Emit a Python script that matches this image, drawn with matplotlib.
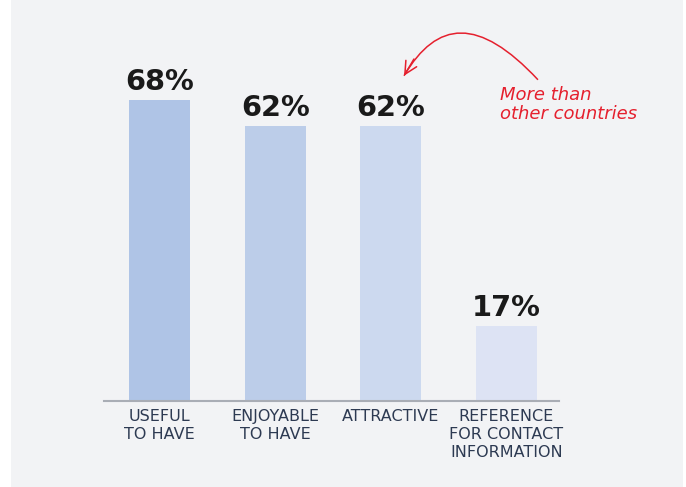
import matplotlib.pyplot as plt
from matplotlib.patches import Rectangle, PathPatch
from matplotlib.path import Path

categories = ["USEFUL\nTO HAVE", "ENJOYABLE\nTO HAVE", "ATTRACTIVE", "REFERENCE\nFOR CONTACT\nINFORMATION"]
values = [68, 62, 62, 17]
bar_colors = ["#afc4e6", "#bccde9", "#ccd9ef", "#dde3f4"]
note = "More than\nother countries"

fig = plt.figure(figsize=(6.86, 4.87), dpi=100)
fig.patch.set_facecolor("white")
# light grey card behind the chart
fig.patches.append(Rectangle((11 / 686, 0), 672 / 686, 1, transform=fig.transFigure,
                             facecolor="#f2f3f5", edgecolor="none", zorder=-10))

ax = fig.add_axes([104 / 686, 86 / 487, 455 / 686, 401 / 487])
ax.set_facecolor("none")

x = range(len(values))
bars = ax.bar(x, values, width=0.527, color=bar_colors, zorder=2)
for xi, v in zip(x, values):
    ax.annotate(f"{v}%", (xi, v), xytext=(0, 3), textcoords="offset points",
                ha="center", va="bottom", fontsize=20.8, fontweight="bold", color="#1a1a1a")

ax.set_xlim(-0.48, 3.454)
ax.set_ylim(0, 90.5)
ax.set_xticks(list(x))
ax.set_xticklabels(categories, fontsize=11.5, color="#2d3a52", linespacing=1.22)
ax.tick_params(axis="x", length=0, pad=6)
ax.set_yticks([])
for side in ["top", "right", "left"]:
    ax.spines[side].set_visible(False)
ax.spines["bottom"].set_color("#a9adb5")
ax.spines["bottom"].set_linewidth(1.5)

# curved callout arrow (cubic bezier from the note towards the third bar)
red = "#e5202e"
p0, p1, p2, p3 = (3.272, 72.5), (2.76, 86.8), (2.40, 86.0), (2.114, 73.4)
curve = Path([p0, p1, p2, p3], [Path.MOVETO, Path.CURVE4, Path.CURVE4, Path.CURVE4])
ax.add_patch(PathPatch(curve, fill=False, edgecolor=red, lw=1.1, clip_on=False))
# open arrow head along the end tangent
tail = (p3[0] + 0.3 * (p2[0] - p3[0]), p3[1] + 0.3 * (p2[1] - p3[1]))
ax.annotate("", xy=p3, xytext=tail,
            arrowprops=dict(arrowstyle="->,head_length=0.9,head_width=0.45", color=red,
                            lw=1.1, shrinkA=0, shrinkB=0),
            annotation_clip=False)
ax.text(2.944, 71.1, note, ha="left", va="top", fontsize=13, style="italic",
        color=red, linespacing=1.05)

fig.savefig("out.png", dpi=100)
